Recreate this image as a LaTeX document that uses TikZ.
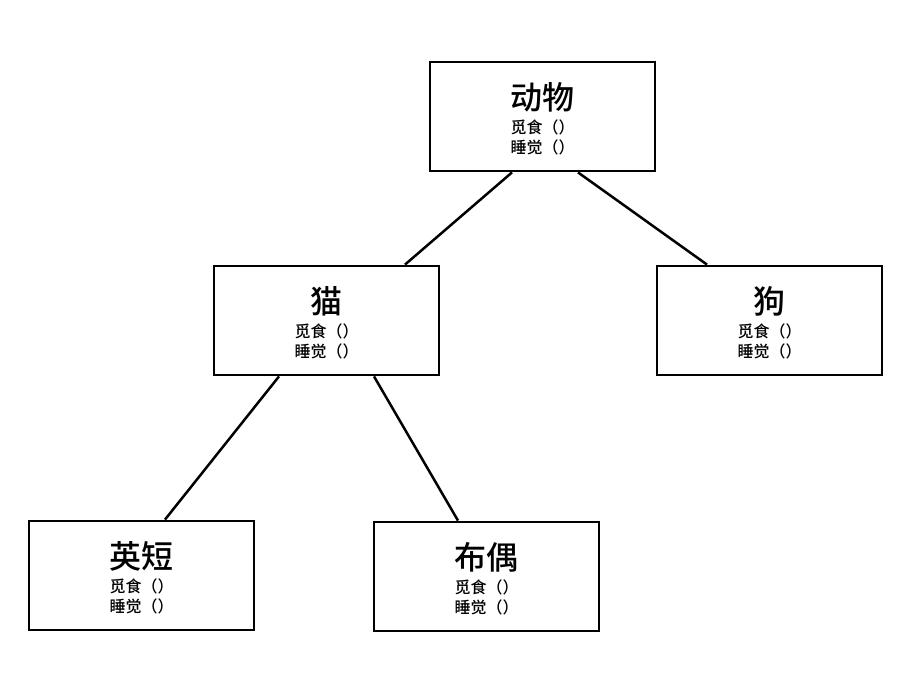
\documentclass[tikz,border=0pt]{standalone}
\usepackage{fontspec}
\newfontfamily\cjkt{Noto Sans CJK SC}[UprightFont={* Medium}]
\begin{document}
\begin{tikzpicture}[x=1pt,y=-1pt,
  cls/.style={draw, line width=2.8pt, minimum width=225pt, minimum height=109pt, inner sep=0pt},
  ttl/.style={inner sep=0pt, font=\cjkt\fontsize{32}{32}\selectfont},
  itm/.style={inner sep=0pt, font=\cjkt\fontsize{16}{16}\selectfont},
  link/.style={line width=2.5pt}]
\useasboundingbox[fill=white] (0,0) rectangle (916,680);
\foreach \n/\x/\y/\t in {dw/542.5/116.5/动物, mao/326.5/320.5/猫, gou/769.5/320.5/狗, yd/141.5/575.5/英短, bo/486.5/576.5/布偶}{
  \node[cls] (\n) at (\x,\y) {};
  \node[ttl] (\n-t) at (\x,\y-19.5) {\t};
  \node[itm] (\n-a) at (\x,\y+10.5) {觅食（）};
  \node[itm] (\n-b) at (\x,\y+30.5) {睡觉（）};
}
\draw[link] ([xshift=-30.5pt]dw.south) -- ([xshift=78.5pt]mao.north);
\draw[link] ([xshift=35.5pt]dw.south) -- ([xshift=-62.5pt]gou.north);
\draw[link] ([xshift=-47.5pt]mao.south) -- ([xshift=23.5pt]yd.north);
\draw[link] ([xshift=47.5pt]mao.south) -- ([xshift=-28.5pt]bo.north);
\end{tikzpicture}
\end{document}
